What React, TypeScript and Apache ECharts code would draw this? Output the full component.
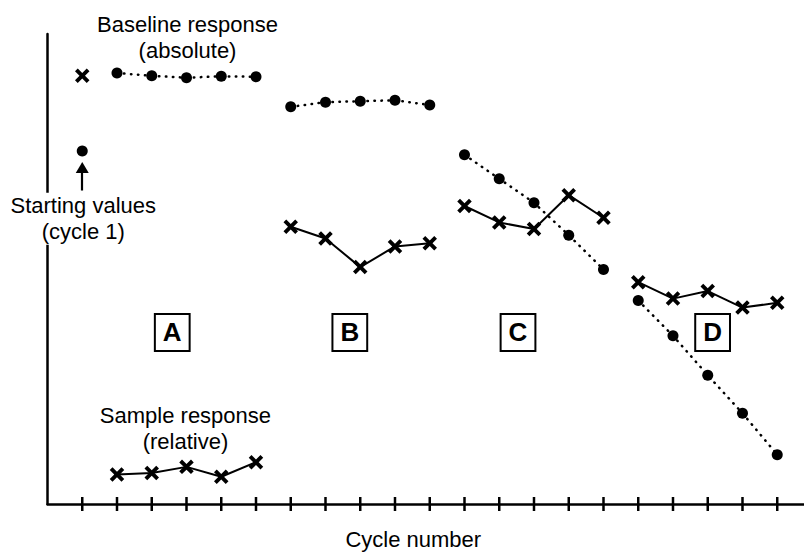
import React, { useEffect, useRef } from "react";
import * as echarts from "echarts";

// ---- data (values on a 0–100 relative scale) ----
const tickCycles = [1, 2, 3, 4, 5, 6, 7, 8, 9, 10, 11, 12, 13, 14, 15, 16, 17, 18, 19, 20, 21];

const startCycle = 1;
const startBaseline = 75.1; // dot
const startSample = 91.1; // cross

const cyclesA = [2, 3, 4, 5, 6];
const cyclesB = [7, 8, 9, 10, 11];
const cyclesC = [12, 13, 14, 15, 16];
const cyclesD = [17, 18, 19, 20, 21];

const baselineA = [91.7, 91.1, 90.7, 91.0, 90.9];
const baselineB = [84.5, 85.5, 85.7, 85.9, 84.9];
const baselineC = [74.3, 69.2, 64.1, 57.2, 49.9];
const baselineD = [43.3, 35.8, 27.4, 19.3, 10.5];

const sampleA = [6.3, 6.6, 7.9, 5.8, 8.9];
const sampleB = [59.0, 56.5, 50.4, 54.8, 55.5];
const sampleC = [63.4, 59.9, 58.5, 65.7, 60.9];
const sampleD = [47.2, 43.7, 45.3, 41.8, 42.8];

const boxLabels = ["A", "B", "C", "D"];
const boxCycles = [3.59, 8.7, 13.54, 19.14];
const boxValue = 36.5;

const textLabels = ["Baseline response\n(absolute)", "Starting values\n(cycle 1)", "Sample response\n(relative)"];
const textCycles = [4.03, 1.03, 3.97];
const textValues = [99.3, 60.7, 16.0];

const arrowFrom = 66.7;
const arrowTo = 71.6;

const FONT = "'Liberation Sans', Arial, Helvetica, sans-serif";
const CROSS =
  "path://M0,1.9L1.9,0L5,3.1L8.1,0L10,1.9L6.9,5L10,8.1L8.1,10L5,6.9L1.9,10L0,8.1L3.1,5Z";

function zip(xs: number[], ys: number[]) {
  return xs.map((x, i) => [x, ys[i]]);
}

function dottedSeries(xs: number[], ys: number[]) {
  return {
    type: "line",
    data: zip(xs, ys),
    symbol: "circle",
    symbolSize: 11,
    itemStyle: { color: "#000", borderWidth: 0, opacity: 1 },
    lineStyle: { color: "#000", width: 2.5, type: [0.5, 6.5], cap: "round" },
    silent: true,
    z: 3,
  };
}

function solidSeries(xs: number[], ys: number[]) {
  return {
    type: "line",
    data: zip(xs, ys),
    symbol: CROSS,
    symbolSize: 14.5,
    itemStyle: { color: "#000", borderWidth: 0, opacity: 1 },
    lineStyle: { color: "#000", width: 2 },
    silent: true,
    z: 3,
  };
}

export default function App() {
  const ref = useRef<HTMLDivElement>(null);

  useEffect(() => {
    if (!ref.current) return;
    const chart = echarts.init(ref.current, null, { renderer: "svg" });

    const option: any = {
      animation: false,
      backgroundColor: "#fff",
      textStyle: { fontFamily: FONT },
      grid: { left: 47.5, right: 0, top: 34, bottom: 47 },
      xAxis: {
        type: "value",
        min: 0,
        max: 21.77,
        interval: 1,
        name: "Cycle number",
        nameLocation: "middle",
        nameGap: 24,
        nameTextStyle: { fontSize: 22, color: "#000", fontFamily: FONT, padding: [0, 25, 0, 0] },
        axisLine: { show: true, onZero: false, lineStyle: { color: "#000", width: 2.5 } },
        axisTick: { show: false },
        axisLabel: { show: false },
        splitLine: { show: false },
      },
      yAxis: {
        type: "value",
        min: 0,
        max: 100,
        axisLine: { show: true, onZero: false, lineStyle: { color: "#000", width: 2.5 } },
        axisTick: { show: false },
        axisLabel: { show: false },
        splitLine: { show: false },
      },
      series: [
        {
          // x-axis tick marks crossing the axis line
          type: "custom",
          silent: true,
          clip: false,
          z: 1,
          data: tickCycles.map((c) => [c, 0]),
          renderItem: (params: any, api: any) => {
            const p = api.coord([api.value(0), api.value(1)]);
            return {
              type: "line",
              shape: { x1: p[0], y1: p[1] - 7, x2: p[0], y2: p[1] + 7 },
              style: { stroke: "#000", lineWidth: 2.5 },
            };
          },
        },
        dottedSeries(cyclesA, baselineA),
        dottedSeries(cyclesB, baselineB),
        dottedSeries(cyclesC, baselineC),
        dottedSeries(cyclesD, baselineD),
        solidSeries(cyclesA, sampleA),
        solidSeries(cyclesB, sampleB),
        solidSeries(cyclesC, sampleC),
        solidSeries(cyclesD, sampleD),
        {
          type: "scatter",
          data: [[startCycle, startBaseline]],
          symbol: "circle",
          symbolSize: 11,
          itemStyle: { color: "#000", opacity: 1 },
          silent: true,
          z: 3,
          markLine: {
            silent: true,
            symbol: ["none", "triangle"],
            symbolSize: [13, 11],
            label: { show: false },
            lineStyle: { color: "#000", width: 2.2, type: "solid", opacity: 1 },
            itemStyle: { color: "#000" },
            data: [[{ coord: [startCycle, arrowFrom] }, { coord: [startCycle, arrowTo] }]],
          },
        },
        {
          type: "scatter",
          data: [[startCycle, startSample]],
          symbol: CROSS,
          symbolSize: 14.5,
          itemStyle: { color: "#000", opacity: 1 },
          silent: true,
          z: 3,
        },
        {
          type: "scatter",
          silent: true,
          symbol: "circle",
          symbolSize: 1,
          itemStyle: { color: "rgba(0,0,0,0)", opacity: 1 },
          z: 5,
          data: textCycles.map((c, i) => ({ value: [c, textValues[i]], name: textLabels[i] })),
          label: {
            show: true,
            position: "inside",
            formatter: (p: any) => p.name,
            color: "#000",
            fontSize: 22,
            lineHeight: 26,
            fontFamily: FONT,
            align: "center",
            verticalAlign: "middle",
            backgroundColor: "#fff",
          },
        },
        {
          type: "scatter",
          silent: true,
          symbol: "circle",
          symbolSize: 1,
          itemStyle: { color: "rgba(0,0,0,0)", opacity: 1 },
          z: 5,
          data: boxCycles.map((c, i) => ({ value: [c, boxValue], name: boxLabels[i] })),
          label: {
            show: true,
            position: "inside",
            formatter: (p: any) => p.name,
            color: "#000",
            fontSize: 26,
            fontWeight: "bold",
            lineHeight: 26,
            fontFamily: FONT,
            align: "center",
            verticalAlign: "middle",
            backgroundColor: "#fff",
            borderColor: "#000",
            borderWidth: 2,
            padding: [5, 7, 4, 7],
          },
        },
      ],
    };

    chart.setOption(option);
    return () => chart.dispose();
  }, []);

  return (
    <div
      ref={ref}
      style={{ position: "fixed", left: 0, top: 0, width: 804, height: 555, background: "#fff" }}
    />
  );
}
